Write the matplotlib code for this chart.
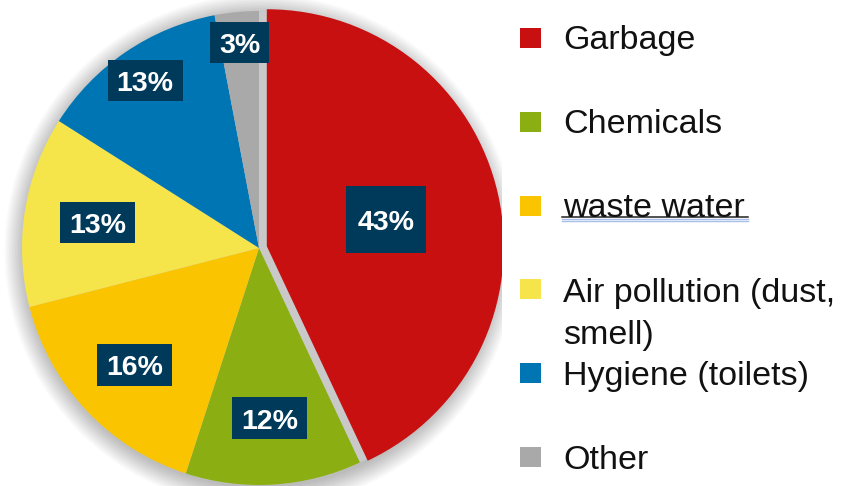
import numpy as np
import matplotlib.pyplot as plt
from matplotlib.patches import Rectangle, Circle

# Data
categories = ['Garbage', 'Chemicals', 'waste water',
              'Air pollution (dust,\nsmell)', 'Hygiene (toilets)', 'Other']
shares = [43, 12, 16, 13, 13, 3]
pct_labels = [f'{v}%' for v in shares]
colors = ['#C81010', '#8BAF12', '#FAC400', '#F5E54A', '#0075B4', '#A9A9A9']

plt.rcParams['font.family'] = ['Liberation Sans', 'DejaVu Sans']

W, H = 844, 486
fig = plt.figure(figsize=(W / 100, H / 100), dpi=100)

# pie area (clipped at its right edge like the pasted picture)
pie_w = 502
ax = fig.add_axes([0, 0, pie_w / W, 1])
cx, cy, r = 259, 238, 237

# soft drop shadow
for k in range(14):
    ax.add_patch(Circle((cx + 2, cy - 3), r + 1.5 * k, color='black',
                        alpha=0.018, lw=0, zorder=0))
# light grey shows through the gap of the pulled-out slice
ax.add_patch(Circle((cx, cy), r, color='#C9C9C9', lw=0, zorder=1))

wedges, _ = ax.pie(shares, colors=colors, startangle=90, counterclock=False,
                   radius=r, center=(cx, cy), explode=[8, 0, 0, 0, 0, 0],
                   wedgeprops=dict(linewidth=0))
for w in wedges:
    w.set_clip_on(True)
    w.set_zorder(2)

ax.set_xlim(0, pie_w)
ax.set_ylim(0, H)
ax.set_aspect('equal')
ax.axis('off')

# percentage labels in dark boxes
label_dist = [0.55, 0.72, 0.72, 0.69, 0.855, 0.87]
box_w = [80, 75, 75, 75, 75, 59]
box_h = [67, 42, 42, 41, 41, 41]
for w, txt, d, bw, bh in zip(wedges, pct_labels, label_dist, box_w, box_h):
    ang = np.deg2rad((w.theta1 + w.theta2) / 2)
    x = cx + d * r * np.cos(ang)
    y = cy + d * r * np.sin(ang)
    ax.add_patch(Rectangle((x - bw / 2, y - bh / 2), bw, bh,
                           facecolor='#003A5A', lw=0, zorder=3))
    ax.text(x, y - 10.2, txt, ha='center', va='baseline', color='white',
            fontsize=20.5, fontweight='bold', zorder=4)

# legend drawn by hand
lax = fig.add_axes([0, 0, 1, 1])
lax.set_xlim(0, W)
lax.set_ylim(0, H)
lax.axis('off')
lax.patch.set_alpha(0)

line_gap = 43
row_y = [38 + 83.8 * i for i in range(len(categories))]
for name, col, yc in zip(categories, colors, row_y):
    lax.add_patch(Rectangle((520, H - yc - 10), 21, 20, facecolor=col, lw=0))
    extra = line_gap * name.count('\n')   # baseline sits on the last line
    lax.text(563, H - yc - 11.5 - extra, name, fontsize=24.5, va='baseline',
             ha='left', color='#111111', linespacing=1.46)

# underline + spell-check squiggle under "waste water"
lax.plot([562, 748], [H - 217, H - 217], color='#222222', lw=1.1)
lax.plot([562, 748], [H - 219.5, H - 219.5], color='#A7BFEA', lw=1)
lax.plot([562, 748], [H - 221.5, H - 221.5], color='#A7BFEA', lw=1)

fig.savefig('out.png', dpi=100)
